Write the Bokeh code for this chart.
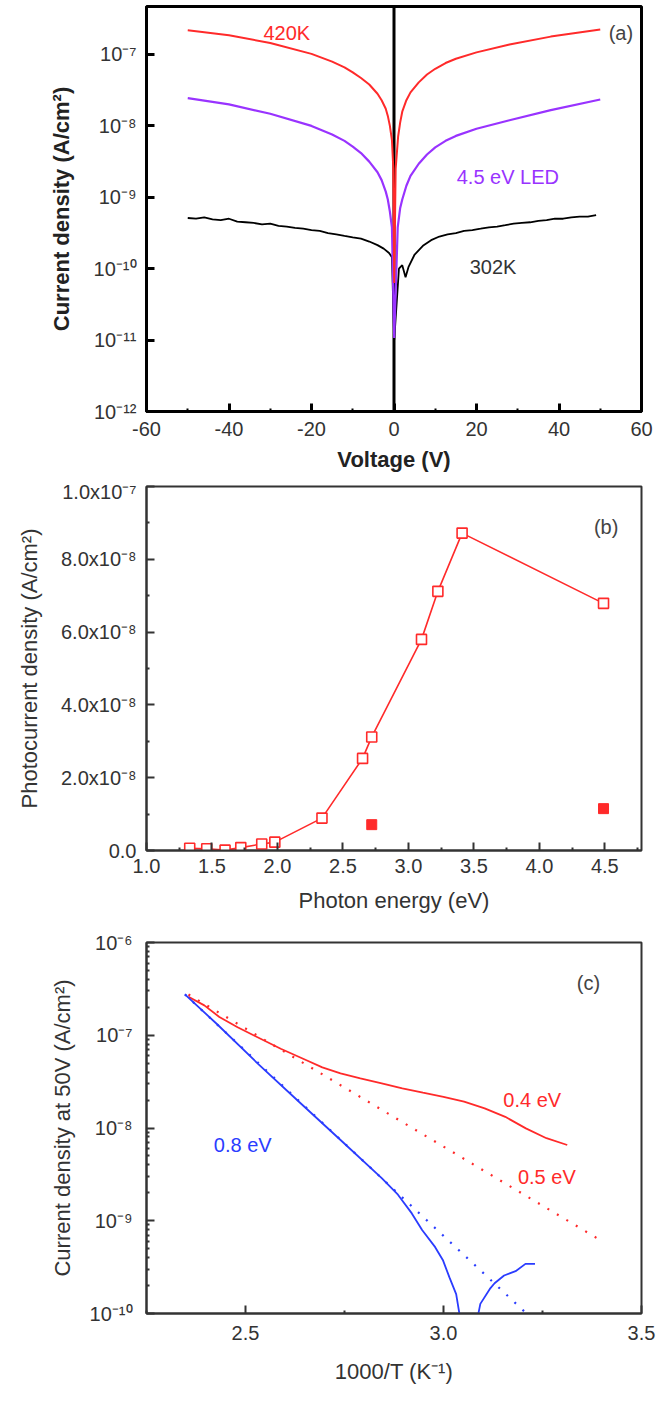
from bokeh.plotting import figure
from bokeh.models import FixedTicker, CustomJSTickFormatter, Span, Label
from bokeh.layouts import column
from bokeh.embed import file_html
from bokeh.resources import INLINE

# ---------------- Panel (a): J-V curves ----------------
volt_420 = [-50, -40, -30, -20, -15, -12, -10, -8, -6, -4, -3, -2, -1.5, -1, -0.5, -0.2, 0.05,
            0.4, 1.0, 1.5, 2, 3, 4, 6, 8, 10, 12.5, 15, 20, 28, 38, 50]
curr_420 = [2.19e-7, 1.86e-7, 1.45e-7, 1.02e-7, 7.94e-8, 6.61e-8, 5.62e-8, 4.68e-8, 3.80e-8, 2.82e-8, 2.29e-8,
            1.74e-8, 1.38e-8, 1.0e-8, 6.3e-9, 2.8e-9, 6.3e-11,
            2.5e-9, 7.1e-9, 1.12e-8, 1.58e-8, 2.29e-8, 2.95e-8, 4.07e-8, 5.25e-8, 6.31e-8, 7.59e-8, 8.71e-8,
            1.07e-7, 1.38e-7, 1.78e-7, 2.24e-7]

volt_led = [-50, -40, -30, -20, -15, -12, -10, -8, -6, -4, -3, -2, -1.5, -1, -0.5, 0.05,
            0.9, 1.5, 2.0, 3, 4, 6, 8, 10, 12.5, 15, 20, 28, 38, 50]
curr_led = [2.45e-8, 2.0e-8, 1.48e-8, 1.0e-8, 7.59e-9, 6.17e-9, 5.13e-9, 4.17e-9, 3.16e-9, 2.24e-9, 1.74e-9,
            1.20e-9, 9.3e-10, 6.3e-10, 3.8e-10, 1.07e-11,
            3.8e-10, 7.1e-10, 9.3e-10, 1.45e-9, 2.0e-9, 2.95e-9, 3.98e-9, 5.01e-9, 6.17e-9, 7.24e-9, 9.12e-9,
            1.2e-8, 1.66e-8, 2.34e-8]

volt_302 = [-50, -48, -46, -44, -42, -40, -38, -36, -34, -32, -30, -28, -26, -24, -22, -20, -18, -16, -14, -12,
            -10, -8, -6, -4, -2.5, -1.2, -0.5, 0.05, 1.2, 2.0, 2.8, 3.5, 5, 7, 9, 11, 13, 15, 17, 19, 21, 23, 25,
            27, 29, 31, 33, 35, 37, 39, 41, 43, 45, 47, 49]
curr_302 = [5.13e-10, 5.01e-10, 5.25e-10, 4.90e-10, 4.79e-10, 5.01e-10, 4.57e-10, 4.47e-10, 4.37e-10, 4.17e-10,
            4.27e-10, 3.98e-10, 3.89e-10, 3.72e-10, 3.63e-10, 3.47e-10, 3.39e-10, 3.16e-10, 3.02e-10, 2.88e-10,
            2.75e-10, 2.63e-10, 2.40e-10, 2.14e-10, 1.91e-10, 1.66e-10, 1.45e-10, 1.0e-11, 1.0e-10, 1.12e-10,
            7.6e-11, 1.05e-10, 1.58e-10, 2.09e-10, 2.51e-10, 2.82e-10, 3.02e-10, 3.16e-10, 3.39e-10, 3.47e-10,
            3.63e-10, 3.80e-10, 3.89e-10, 4.07e-10, 4.27e-10, 4.37e-10, 4.47e-10, 4.68e-10, 4.79e-10, 5.01e-10,
            5.01e-10, 5.25e-10, 5.37e-10, 5.37e-10, 5.62e-10]

a_xticks = [-60, -40, -20, 0, 20, 40, 60]
a_xminor = [-50, -30, -10, 10, 30, 50]
a_yticks = [1e-12, 1e-11, 1e-10, 1e-9, 1e-8, 1e-7]

# ---------------- Panel (b): photocurrent spectrum ----------------
energy_open = [1.33, 1.46, 1.60, 1.72, 1.88, 1.98, 2.34, 2.65, 2.72, 3.10, 3.225, 3.41, 4.49]
photo_open = [0.6e-9, 0.5e-9, 0.1e-9, 0.8e-9, 1.8e-9, 2.3e-9, 8.9e-9, 25.3e-9, 31.2e-9, 58.0e-9, 71.2e-9, 87.2e-9, 67.9e-9]
energy_filled = [2.72, 4.49]
photo_filled = [7.1e-9, 11.5e-9]

b_xticks = [1.0, 1.5, 2.0, 2.5, 3.0, 3.5, 4.0, 4.5]
b_xminor = [1.25, 1.75, 2.25, 2.75, 3.25, 3.75, 4.25, 4.75]
b_yticks = [0.0, 2e-8, 4e-8, 6e-8, 8e-8, 1e-7]
b_yminor = [1e-8, 3e-8, 5e-8, 7e-8, 9e-8]

# ---------------- Panel (c): Arrhenius plot ----------------
invT_04 = [2.356, 2.396, 2.434, 2.480, 2.524, 2.589, 2.654, 2.694, 2.740, 2.790, 2.844, 2.896, 2.948, 3.000,
           3.052, 3.104, 3.156, 3.208, 3.260, 3.3125]
curr_04 = [2.6e-7, 2.10e-7, 1.57e-7, 1.22e-7, 9.8e-8, 7.15e-8, 5.37e-8, 4.5e-8, 3.89e-8, 3.42e-8, 3.02e-8,
           2.67e-8, 2.40e-8, 2.17e-8, 1.92e-8, 1.63e-8, 1.32e-8, 9.9e-9, 7.76e-9, 6.56e-9]
invT_05_fit = [2.356, 3.401]
curr_05_fit = [2.75e-7, 6.0e-10]

invT_08_a = [2.347, 2.427, 2.531, 2.635, 2.740, 2.844, 2.885, 2.920, 2.946, 2.979, 2.999, 3.015, 3.032, 3.042]
curr_08_a = [2.76e-7, 1.33e-7, 4.95e-8, 1.92e-8, 7.43e-9, 2.88e-9, 1.91e-9, 1.20e-9, 7.94e-10, 5.19e-10,
             3.72e-10, 2.45e-10, 1.62e-10, 8.9e-11]
invT_08_b = [3.086, 3.093, 3.117, 3.129, 3.153, 3.182, 3.207, 3.231]
curr_08_b = [9.0e-11, 1.27e-10, 1.84e-10, 2.12e-10, 2.57e-10, 2.86e-10, 3.43e-10, 3.43e-10]
invT_08_fit = [2.347, 3.212]
curr_08_fit = [2.76e-7, 9.8e-11]

c_xticks = [2.5, 3.0, 3.5]
c_xminor = [2.25, 2.75, 3.25]
c_yticks = [1e-10, 1e-9, 1e-8, 1e-7, 1e-6]
c_yminor = [m * d for d in [1e-10, 1e-9, 1e-8, 1e-7] for m in range(2, 10)]

RED = "#ff2a2a"
PURPLE = "#9933ff"
BLUE = "#2a3cff"
FONT = "Liberation Sans"
TICKCOL = "#333333"

SUP_JS = """
const s = {"-":"\\u207b","0":"\\u2070","1":"\\u00b9","2":"\\u00b2","3":"\\u00b3","4":"\\u2074",
           "5":"\\u2075","6":"\\u2076","7":"\\u2077","8":"\\u2078","9":"\\u2079"};
function sup(e) { return String(e).split("").map(c => s[c]).join(""); }
"""
log_fmt = CustomJSTickFormatter(code=SUP_JS + """
const e = Math.round(Math.log10(tick));
return "10" + sup(e);
""")
sci_fmt = CustomJSTickFormatter(code=SUP_JS + """
if (Math.abs(tick) < 1e-15) return "0.0";
const e = Math.floor(Math.log10(tick) + 1e-9);
const m = tick / Math.pow(10, e);
return m.toFixed(1) + "x10" + sup(e);
""")
int_fmt = CustomJSTickFormatter(code="return String(Math.round(tick));")
dec_fmt = CustomJSTickFormatter(code="return tick.toFixed(1);")


def style(p, lw, frame_col, label_size, bold, xstand, ystand, xlab_stand, ylab_stand):
    p.xgrid.visible = False
    p.ygrid.visible = False
    p.outline_line_color = frame_col
    p.outline_line_width = lw
    p.background_fill_color = "white"
    p.border_fill_color = "white"
    for ax in [p.xaxis[0], p.yaxis[0]]:
        ax.axis_line_width = lw
        ax.axis_line_color = frame_col
        ax.major_tick_line_width = lw
        ax.major_tick_line_color = frame_col
        ax.minor_tick_line_width = 2
        ax.minor_tick_line_color = frame_col
        ax.major_tick_in = 8
        ax.major_tick_out = 0
        ax.minor_tick_in = 3
        ax.minor_tick_out = 0
        ax.major_label_text_font = FONT
        ax.major_label_text_font_size = "20px"
        ax.major_label_text_color = TICKCOL
        ax.axis_label_text_font = FONT
        ax.axis_label_text_font_size = label_size
        ax.axis_label_text_font_style = "bold" if bold else "normal"
        ax.axis_label_text_color = "#222222" if bold else "#333333"
    p.xaxis[0].major_label_standoff = xstand
    p.yaxis[0].major_label_standoff = ystand
    p.xaxis[0].axis_label_standoff = xlab_stand
    p.yaxis[0].axis_label_standoff = ylab_stand


def add_text(p, x, y, txt, color):
    p.add_layout(Label(x=x, y=y, text=txt, text_color=color, text_font=FONT, text_font_size="20px",
                       text_align="center", text_baseline="middle"))


# ---- figure a ----
pa = figure(width=662, height=480, x_range=(-60, 60), y_range=(1e-12, 4.7e-7), y_axis_type="log",
            output_backend="svg", toolbar_location=None,
            min_border_left=141, min_border_right=21, min_border_top=6, min_border_bottom=69,
            x_axis_label="Voltage (V)", y_axis_label="Current density (A/cm\u00b2)")
pa.xaxis.ticker = FixedTicker(ticks=a_xticks, minor_ticks=a_xminor)
pa.yaxis.ticker = FixedTicker(ticks=a_yticks, minor_ticks=[])
pa.yaxis.formatter = log_fmt
pa.xaxis.formatter = int_fmt
style(pa, 3, "black", "22px", True, 10, 10, 8, 17)
pa.add_layout(Span(location=0, dimension="height", line_color="black", line_width=3, level="underlay"))
pa.line(volt_302, curr_302, color="black", line_width=1.8)
pa.line(volt_led, curr_led, color=PURPLE, line_width=2.2)
pa.line(volt_420, curr_420, color=RED, line_width=2)
add_text(pa, -26, 1.97e-7, "420K", RED)
add_text(pa, 55, 2.0e-7, "(a)", "#444444")
add_text(pa, 27.6, 1.9e-9, "4.5 eV LED", PURPLE)
add_text(pa, 24, 1.05e-10, "302K", "#333333")

# ---- figure b ----
pb = figure(width=662, height=440, x_range=(1.0, 4.78), y_range=(0, 1e-7),
            output_backend="svg", toolbar_location=None,
            min_border_left=146, min_border_right=20, min_border_top=6, min_border_bottom=70,
            x_axis_label="Photon energy (eV)", y_axis_label="Photocurrent density (A/cm\u00b2)")
pb.xaxis.ticker = FixedTicker(ticks=b_xticks, minor_ticks=b_xminor)
pb.yaxis.ticker = FixedTicker(ticks=b_yticks, minor_ticks=b_yminor)
pb.yaxis.formatter = sci_fmt
pb.xaxis.formatter = dec_fmt
style(pb, 2, "#333333", "22px", False, 8, 10, 12, 16)
pb.line(energy_open, photo_open, color=RED, line_width=1.6)
pb.scatter(energy_open, photo_open, marker="square", size=10, fill_color="white", line_color=RED, line_width=1.6)
pb.scatter(energy_filled, photo_filled, marker="square", size=10, fill_color=RED, line_color=RED)
add_text(pb, 4.51, 8.9e-8, "(b)", "#444444")

# ---- figure c ----
pc = figure(width=662, height=482, x_range=(2.25, 3.5), y_range=(1e-10, 1e-6), y_axis_type="log",
            output_backend="svg", toolbar_location=None,
            min_border_left=138, min_border_right=15, min_border_top=22, min_border_bottom=89,
            x_axis_label="1000/T (K\u207b\u00b9)", y_axis_label="Current density at 50V (A/cm\u00b2)")
pc.xaxis.ticker = FixedTicker(ticks=c_xticks, minor_ticks=c_xminor)
pc.yaxis.ticker = FixedTicker(ticks=c_yticks, minor_ticks=c_yminor)
pc.yaxis.formatter = log_fmt
pc.xaxis.formatter = dec_fmt
style(pc, 2, "#333333", "22px", False, 12, 14, 16, 12)
pc.line(invT_05_fit, curr_05_fit, color=RED, line_width=2.2, line_dash="2 9")
pc.line(invT_08_fit, curr_08_fit, color=BLUE, line_width=2.2, line_dash="2 9")
pc.line(invT_04, curr_04, color=RED, line_width=1.8)
pc.line(invT_08_a, curr_08_a, color=BLUE, line_width=1.8)
pc.line(invT_08_b, curr_08_b, color=BLUE, line_width=1.8)
add_text(pc, 3.366, 3.7e-7, "(c)", "#444444")
add_text(pc, 3.224, 2.0e-8, "0.4 eV", RED)
add_text(pc, 3.261, 2.95e-9, "0.5 eV", RED)
add_text(pc, 2.493, 6.5e-9, "0.8 eV", BLUE)

layout = column(pa, pb, pc, spacing=0)
open("out.html", "w").write(file_html(layout, INLINE))
